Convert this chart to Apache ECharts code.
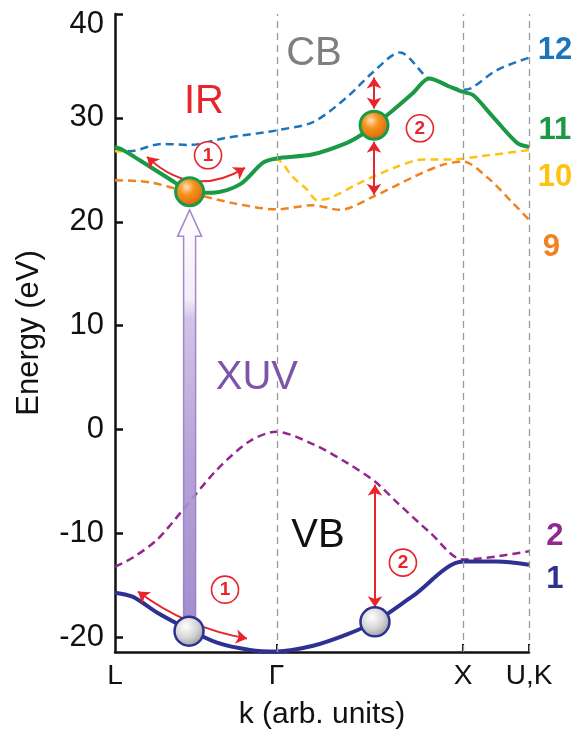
<!DOCTYPE html>
<html>
<head>
<meta charset="utf-8">
<script src="https://cdn.jsdelivr.net/npm/echarts@6/dist/echarts.min.js"></script>
<style>
html,body{margin:0;padding:0;background:#fff;}
#chart{width:577px;height:738px;}
</style>
</head>
<body>
<div id="chart"></div>
<script>
// ---------- data (k in arb. units, E in eV) ----------
const kTicks = [0, 0.866, 1.866, 2.22];
const kLabels = ['L', 'Γ', 'X', 'U,K'];
const eTicks = [-20, -10, 0, 10, 20, 30, 40];

const band12 = [[0,27.1],[0.08,26.8],[0.25,27.5],[0.40,27.4],[0.60,28.1],[0.80,28.6],[0.866,28.8],[1.062,29.6],[1.244,32.0],[1.383,34.4],[1.528,36.3],[1.673,33.9],[1.727,33.6],[1.866,32.7],[1.914,32.9],[2.048,34.6],[2.22,35.8]];
const band11 = [[0,27.2],[0.043,26.9],[0.188,25.3],[0.311,23.9],[0.40,22.9],[0.525,22.8],[0.670,23.6],[0.794,25.7],[0.866,26.1],[1.062,26.5],[1.244,27.6],[1.324,28.4],[1.389,29.3],[1.475,30.5],[1.598,32.4],[1.684,33.8],[1.796,33.0],[1.866,32.5],[1.920,32.2],[2.027,30.1],[2.156,27.6],[2.22,27.2]];
const band10 = [[0,26.8],[0.043,26.8],[0.188,25.3],[0.311,23.9],[0.40,22.9],[0.525,22.8],[0.670,23.6],[0.794,25.7],[0.866,26.0],[0.954,24.3],[1.030,23.1],[1.083,22.1],[1.153,22.3],[1.330,23.9],[1.512,25.3],[1.652,26.0],[1.812,26.0],[1.957,26.3],[2.22,26.9]];
const band9 = [[0,24.0],[0.188,23.8],[0.402,22.8],[0.633,21.8],[0.866,21.2],[1.062,21.6],[1.206,21.15],[1.383,22.4],[1.598,24.3],[1.759,25.5],[1.866,25.8],[1.995,24.3],[2.134,21.8],[2.22,20.2]];
const band2 = [[0,-13.2],[0.097,-12.3],[0.225,-10.6],[0.365,-7.7],[0.547,-3.85],[0.724,-1.1],[0.866,-0.2],[1.062,-1.4],[1.244,-3.2],[1.394,-5.0],[1.512,-7.0],[1.689,-9.9],[1.866,-12.5],[2.048,-12.2],[2.22,-11.7]];
const band1 = [[0,-15.7],[0.097,-16.1],[0.225,-17.6],[0.391,-19.2],[0.547,-20.5],[0.724,-21.2],[0.866,-21.35],[1.062,-20.8],[1.244,-19.7],[1.394,-18.5],[1.598,-16.0],[1.866,-12.7],[2.048,-12.7],[2.22,-13.0]];

// annotations
const electronBalls = [[0.40,22.9],[1.389,29.3]];
const holeBalls = [[0.397,-19.4],[1.394,-18.5]];
const xuvArrow = [[0.40,-18.0,18.6,21.15]]; // k, E bottom, E head base, E tip
const irCurvedArrows = [
  {coords:[[0.172,26.25],[0.697,25.2]], curveness:-0.38},
  {coords:[[0.123,-15.58],[0.708,-20.1]], curveness:-0.12}
];
const straightArrows = [
  [[1.389,33.9],[1.389,30.9]],
  [[1.389,27.7],[1.389,22.6]],
  [[1.394,-5.3],[1.394,-17.1]]
];
const circledNums = [[0.499,26.4,'1'],[1.635,29.0,'2'],[0.590,-15.4,'1'],[1.544,-12.8,'2']];
const regionTexts = [
  {pos:[0.477,31.5], text:'IR', color:'#e8252b'},
  {pos:[1.067,36.15], text:'CB', color:'#7f7f7f'},
  {pos:[0.761,5.0], text:'XUV', color:'#7d55a8'},
  {pos:[1.088,-10.2], text:'VB', color:'#111111'}
];
const bandNumbers = [
  {pos:[2.359,36.5], text:'12', color:'#1c75bc'},
  {pos:[2.359,28.75], text:'11', color:'#1a9a46'},
  {pos:[2.359,24.3], text:'10', color:'#ffc20e'},
  {pos:[2.340,17.5], text:'9', color:'#f0831f'},
  {pos:[2.359,-10.3], text:'2', color:'#92278f'},
  {pos:[2.359,-14.4], text:'1', color:'#2e3192'}
];

// ---------- chart ----------
const FONT = "'Liberation Sans', Arial, sans-serif";
const chart = echarts.init(document.getElementById('chart'), null, {renderer:'canvas'});

function bandSeries(data, color, width, dashed, z) {
  return {
    type:'line', data, smooth:0.3, symbol:'none', z,
    lineStyle:{color, width, type: dashed ? [8,5] : 'solid', cap:'butt'},
    silent:true
  };
}

const option = {
  animation:false,
  grid:{left:115, right:48, top:14, bottom:86},
  xAxis:{
    type:'value', min:0, max:2.22,
    name:'k (arb. units)', nameLocation:'middle', nameGap:48,
    nameTextStyle:{fontSize:30, color:'#111', fontFamily:FONT},
    axisLine:{show:true, onZero:false, lineStyle:{color:'#111', width:2.5}},
    axisTick:{show:true, inside:true, length:8, lineStyle:{color:'#111', width:2}, customValues:kTicks.slice(1)},
    axisLabel:{show:true, customValues:kTicks, showMinLabel:true, showMaxLabel:true, margin:10,
      fontSize:28, color:'#111', fontFamily:FONT,
      formatter:(v)=>{ let i=kTicks.findIndex(t=>Math.abs(t-v)<1e-6); return i>=0?kLabels[i]:''; }},
    splitLine:{show:false}
  },
  yAxis:{
    type:'value', min:-21.4, max:40,
    name:'Energy (eV)', nameLocation:'middle', nameGap:70,
    nameTextStyle:{fontSize:31, color:'#111', fontFamily:FONT},
    axisLine:{show:true, onZero:false, lineStyle:{color:'#111', width:2.5}},
    axisTick:{show:true, inside:true, length:8, lineStyle:{color:'#111', width:2.5}, customValues:eTicks},
    axisLabel:{show:true, customValues:eTicks, showMinLabel:true, showMaxLabel:true, margin:11,
      fontSize:31, color:'#111', fontFamily:FONT,
      formatter:(v)=> v===40 ? '{top|40}' : String(v),
      rich:{top:{fontSize:31, color:'#111', fontFamily:FONT, padding:[20,0,0,0]}}},
    splitLine:{show:false}
  },
  series:[
    // reference lines at high-symmetry points
    {type:'line', data:[], silent:true, markLine:{silent:true, symbol:'none', label:{show:false},
      lineStyle:{color:'#9a9a9a', width:1.3, type:[7,5]},
      data:kTicks.slice(1).map(k=>({xAxis:k}))}},
    bandSeries(band9, '#f0831f', 2.5, true, 2),
    bandSeries(band10, '#ffc20e', 2.5, true, 2),
    bandSeries(band12, '#1c75bc', 2.5, true, 3),
    bandSeries(band11, '#1a9a46', 4, false, 4),
    bandSeries(band2, '#92278f', 2.5, true, 3),
    bandSeries(band1, '#2e3192', 4, false, 4),
    // XUV arrow
    {type:'custom', z:5, silent:true, data:xuvArrow,
      renderItem:(params, api)=>{
        const k=api.value(0);
        const pB=api.coord([k,api.value(1)]);
        const pBase=api.coord([k,api.value(2)]);
        const pTip=api.coord([k,api.value(3)]);
        const hw=6, ahw=12, x=pB[0];
        return {type:'polygon',
          shape:{points:[[x,pTip[1]],[x+ahw,pBase[1]],[x+hw,pBase[1]],[x+hw,pB[1]],[x-hw,pB[1]],[x-hw,pBase[1]],[x-ahw,pBase[1]]]},
          style:{fill:new echarts.graphic.LinearGradient(0,0,0,1,[
            {offset:0,color:'#ffffff'},{offset:0.22,color:'#f1ecf7'},{offset:0.27,color:'#cdbde4'},{offset:0.6,color:'#b09ad4'},{offset:1,color:'#9b82c8'}]),
            stroke:'#9a7cc8', lineWidth:1.5, opacity:0.9}};
      }},
    // red curved IR arrows
    {type:'lines', coordinateSystem:'cartesian2d', z:6, silent:true,
      symbol:['arrow','arrow'], symbolSize:11,
      lineStyle:{color:'#e8252b', width:2, opacity:1},
      data:irCurvedArrows.map(a=>({coords:a.coords, lineStyle:{curveness:a.curveness}}))},
    // straight vertical arrows
    {type:'lines', coordinateSystem:'cartesian2d', z:6, silent:true,
      symbol:['arrow','arrow'], symbolSize:11,
      lineStyle:{color:'#e8252b', width:2, opacity:1, curveness:0},
      data:straightArrows.map(c=>({coords:c}))},
    // electrons
    {type:'scatter', z:8, silent:true, data:electronBalls, symbolSize:28,
      itemStyle:{color:new echarts.graphic.RadialGradient(0.4,0.35,0.7,[
        {offset:0,color:'#ffe0bd'},{offset:0.35,color:'#f7941d'},{offset:1,color:'#d45e0c'}]),
        borderColor:'#1a9a46', borderWidth:3, opacity:1}},
    // holes
    {type:'scatter', z:8, silent:true, data:holeBalls, symbolSize:29,
      itemStyle:{color:new echarts.graphic.RadialGradient(0.4,0.35,0.75,[
        {offset:0,color:'#ffffff'},{offset:0.5,color:'#d4d4d4'},{offset:1,color:'#8a8a8a'}]),
        borderColor:'#2e3192', borderWidth:2.5, opacity:1}},
    // circled numbers
    {type:'scatter', z:9, silent:true, data:circledNums, symbolSize:27,
      itemStyle:{color:'#ffffff', borderColor:'#e8252b', borderWidth:1.6, opacity:1},
      label:{show:true, position:'inside', formatter:(p)=>p.value[2], color:'#e8252b',
        fontSize:19, fontWeight:'bold', fontFamily:FONT}},
    // region texts
    {type:'scatter', z:9, silent:true, symbolSize:2, itemStyle:{color:'rgba(0,0,0,0)', opacity:1},
      data:regionTexts.map(t=>({value:t.pos, label:{formatter:t.text, color:t.color}})),
      label:{show:true, position:'inside', fontSize:40, fontFamily:FONT}},
    // band numbers
    {type:'scatter', z:9, silent:true, symbolSize:2, clip:false, itemStyle:{color:'rgba(0,0,0,0)', opacity:1},
      data:bandNumbers.map(t=>({value:t.pos, label:{formatter:t.text, color:t.color}})),
      label:{show:true, position:'inside', fontSize:31, fontWeight:'bold', fontFamily:FONT}}
  ]
};
chart.setOption(option);
</script>
</body>
</html>
